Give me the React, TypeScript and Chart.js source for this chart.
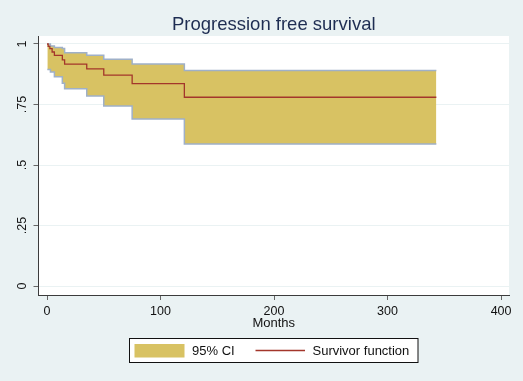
import React, { useEffect, useRef } from "react";
import { Chart, registerables } from "chart.js";

Chart.register(...registerables);

// Survivor function (Kaplan-Meier) step times and values
const survTimes = [0, 1, 2.5, 4.5, 6.5, 13.5, 15.5, 35, 50, 75, 121, 343];
const survValues = [1, 0.99, 0.981, 0.967, 0.953, 0.934, 0.917, 0.897, 0.871, 0.836, 0.78, 0.78];

// 95% CI step times and bounds
const ciTimes = [0.3, 3, 6.5, 13.5, 15.5, 35, 50, 75, 121, 343];
const ciUpper = [1.0, 0.992, 0.986, 0.981, 0.964, 0.953, 0.937, 0.917, 0.89, 0.89];
const ciLower = [0.895, 0.884, 0.865, 0.838, 0.815, 0.785, 0.744, 0.69, 0.587, 0.587];

const xTickVals = [0, 100, 200, 300, 400];
const yTickVals = [0, 0.25, 0.5, 0.75, 1];
const yTickLabels = ["0", ".25", ".5", ".75", "1"];

const titleText = "Progression free survival";
const xAxisTitle = "Months";
const legendCI = "95% CI";
const legendSurv = "Survivor function";

const FONT = '"Liberation Sans", Arial, Helvetica, sans-serif';
const BG = "#eaf2f3";
const CI_FILL = "#d8c263";
const CI_LINE = "#9fb0c8";
const SURV_LINE = "#a3362b";
const AXIS = "#3c3c3c";
const TICK = "#666666";

const toPts = (xs: number[], ys: number[]) => xs.map((x, i) => ({ x, y: ys[i] }));

export default function App() {
  const ref = useRef<HTMLCanvasElement | null>(null);

  useEffect(() => {
    const canvas = ref.current;
    if (!canvas) return;

    const deco = {
      id: "deco",
      beforeDraw(chart: any) {
        const { ctx, chartArea: a } = chart;
        ctx.save();
        ctx.fillStyle = BG;
        ctx.fillRect(0, 0, chart.width, chart.height);
        ctx.fillStyle = "#ffffff";
        ctx.fillRect(a.left, a.top, a.right - a.left, a.bottom - a.top);
        ctx.restore();
      },
      afterDraw(chart: any) {
        const { ctx, chartArea: a } = chart;
        const cx = (a.left + a.right) / 2;
        ctx.save();
        // Title
        ctx.fillStyle = "#1e2d52";
        ctx.font = `18.5px ${FONT}`;
        ctx.textAlign = "center";
        ctx.textBaseline = "alphabetic";
        ctx.fillText(titleText, cx, 29.5);
        // x axis title
        ctx.fillStyle = "#111";
        ctx.font = `13px ${FONT}`;
        ctx.textBaseline = "middle";
        ctx.fillText(xAxisTitle, cx, 323);
        // y tick labels rotated
        const ys = chart.scales.y;
        ctx.font = `12.5px ${FONT}`;
        yTickVals.forEach((v, i) => {
          const py = ys.getPixelForValue(v);
          ctx.save();
          ctx.translate(23, py);
          ctx.rotate(-Math.PI / 2);
          ctx.textAlign = "center";
          ctx.textBaseline = "middle";
          ctx.fillText(yTickLabels[i], 0, 0);
          ctx.restore();
        });
        // Legend
        ctx.fillStyle = "#ffffff";
        ctx.fillRect(129.5, 338.5, 288.5, 24);
        ctx.strokeStyle = "#111";
        ctx.lineWidth = 1;
        ctx.strokeRect(129.5, 338.5, 288.5, 24);
        ctx.fillStyle = CI_FILL;
        ctx.fillRect(134.5, 344, 50, 13.5);
        ctx.strokeStyle = SURV_LINE;
        ctx.lineWidth = 1.3;
        ctx.beginPath();
        ctx.moveTo(255.5, 350.5);
        ctx.lineTo(305, 350.5);
        ctx.stroke();
        ctx.fillStyle = "#111";
        ctx.font = `13px ${FONT}`;
        ctx.textAlign = "left";
        ctx.textBaseline = "middle";
        ctx.fillText(legendCI, 192, 351);
        ctx.fillText(legendSurv, 312.5, 351);
        ctx.restore();
      },
    };

    const chart = new Chart(canvas, {
      type: "line",
      data: {
        datasets: [
          {
            label: legendSurv,
            data: toPts(survTimes, survValues),
            borderColor: SURV_LINE,
            borderWidth: 1.3,
            pointRadius: 0,
            stepped: "before",
            fill: false,
            order: 0,
          },
          {
            label: "lower",
            data: toPts(ciTimes, ciLower),
            borderColor: CI_LINE,
            borderWidth: 1.5,
            pointRadius: 0,
            stepped: "before",
            fill: false,
            order: 1,
          },
          {
            label: legendCI,
            data: toPts(ciTimes, ciUpper),
            borderColor: CI_LINE,
            borderWidth: 1.5,
            backgroundColor: CI_FILL,
            pointRadius: 0,
            stepped: "before",
            fill: 1,
            order: 2,
          },
        ] as any,
      },
      options: {
        responsive: false,
        animation: false,
        devicePixelRatio: 1,
        layout: { padding: { left: 0, right: 14, top: 36, bottom: 56 } },
        plugins: {
          legend: { display: false },
          title: { display: false },
          tooltip: { enabled: false },
        },
        scales: {
          x: {
            type: "linear",
            min: -7.5,
            max: 407,
            afterBuildTicks: (s: any) => {
              s.ticks = xTickVals.map((v) => ({ value: v }));
            },
            afterFit: (s: any) => {
              s.height = 30;
            },
            ticks: {
              color: "#111",
              font: { size: 12.5, family: FONT },
              padding: 4,
              maxRotation: 0,
              minRotation: 0,
              callback: (v: any) => String(v),
            },
            grid: {
              display: true,
              drawOnChartArea: false,
              drawTicks: true,
              tickLength: 5,
              tickColor: TICK,
              color: TICK,
            },
            border: { display: true, color: AXIS, width: 1 },
          },
          y: {
            type: "linear",
            min: -0.037,
            max: 1.033,
            afterBuildTicks: (s: any) => {
              s.ticks = yTickVals.map((v) => ({ value: v }));
            },
            afterFit: (s: any) => {
              s.width = 38.5;
            },
            ticks: { display: false },
            grid: {
              display: true,
              drawOnChartArea: true,
              drawTicks: true,
              tickLength: 5,
              tickColor: TICK,
              color: BG,
            },
            border: { display: true, color: AXIS, width: 1 },
          },
        },
      },
      plugins: [deco],
    });

    return () => chart.destroy();
  }, []);

  return (
    <div style={{ position: "absolute", left: 0, top: 0, width: 523, height: 381 }}>
      <canvas ref={ref} width={523} height={381} style={{ display: "block" }} />
    </div>
  );
}
